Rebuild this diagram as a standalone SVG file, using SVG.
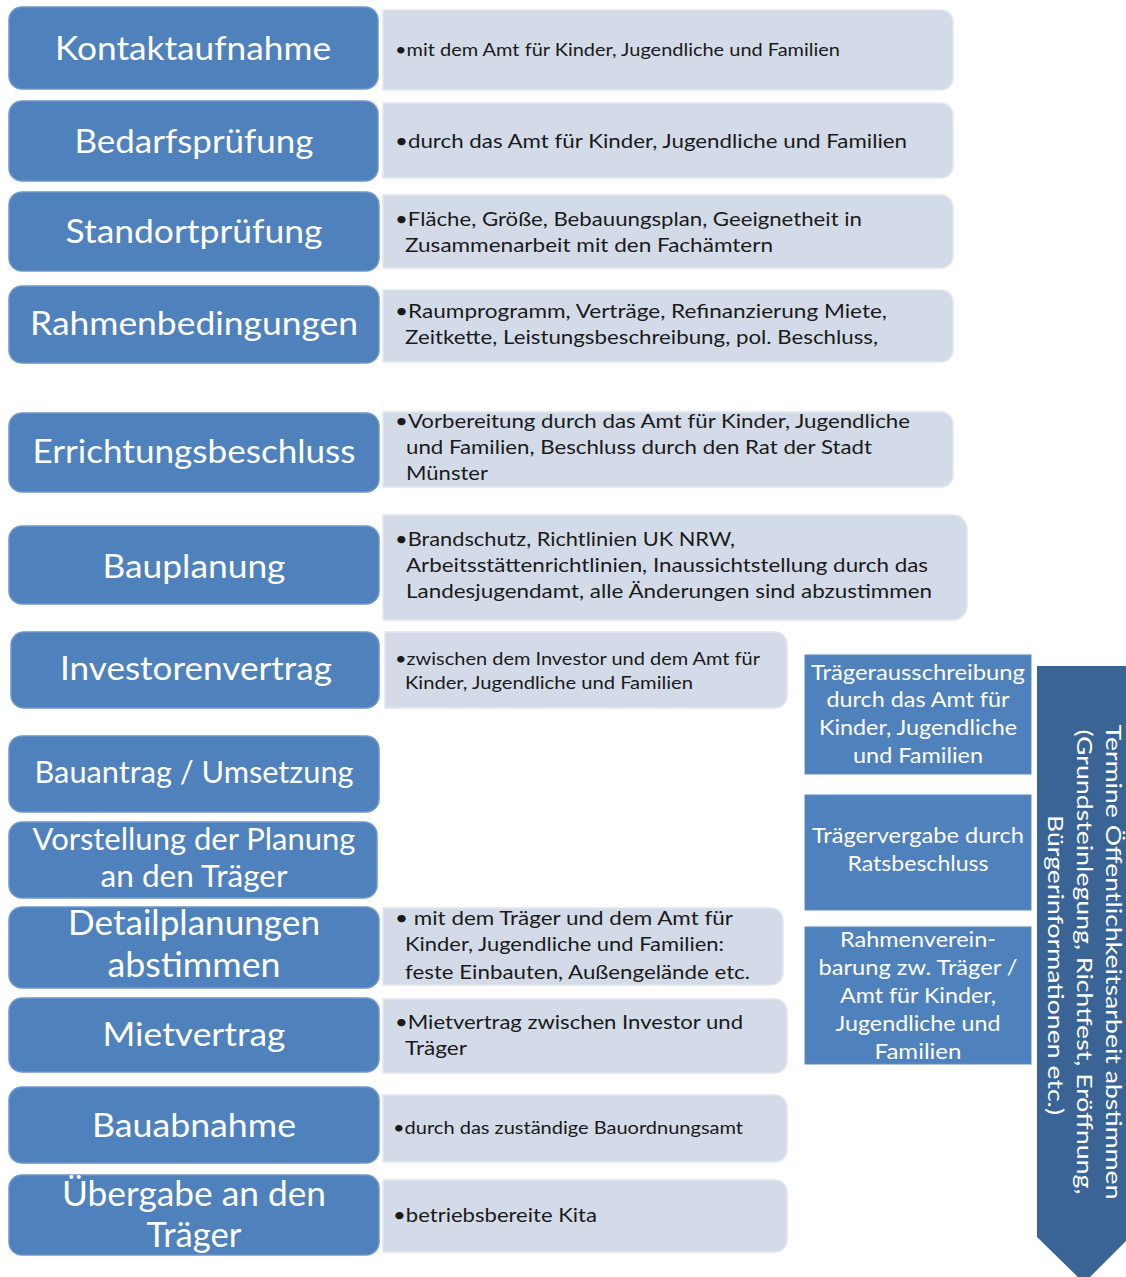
<svg xmlns="http://www.w3.org/2000/svg" width="1126" height="1277" viewBox="0 0 1126 1277">
<style>
.step{fill:#4F81BD;stroke:#6E97CC;stroke-width:1.5}
.det{fill:#D4DBE8;stroke:#E2E7F0;stroke-width:1.5}
.side{fill:#4F81BD;stroke:#5F8CC4;stroke-width:1}
.arrow{fill:#3A6496}
.lbl{font-family:Lato,"Open Sans",sans-serif;fill:#FFFFFF;text-anchor:middle}
.txt{font-family:Lato,"Open Sans",sans-serif;fill:#1A1A1A;font-size:19px}
.sm{font-size:17px}
.sl{font-family:Lato,"Open Sans",sans-serif;fill:#FFFFFF;text-anchor:middle;font-size:21px}
.al{font-family:Lato,"Open Sans",sans-serif;fill:#FFFFFF;text-anchor:middle;font-size:22px}
</style>
<rect width="1126" height="1277" fill="#FFFFFF"/>
<g id="connectors"></g>

<g id="arrow-oeffentlichkeit">
<polygon class="arrow" points="1037,666 1130,666 1130,1237 1084,1283 1037,1237"/>
<text class="al" transform="translate(1106,962) rotate(90)" textLength="475" lengthAdjust="spacingAndGlyphs">Termine Öffentlichkeitsarbeit abstimmen</text>
<text class="al" transform="translate(1077,962) rotate(90)" textLength="465" lengthAdjust="spacingAndGlyphs">(Grundsteinlegung, Richtfest, Eröffnung,</text>
<text class="al" transform="translate(1048,965) rotate(90)" textLength="300" lengthAdjust="spacingAndGlyphs">Bürgerinformationen etc.)</text>
</g>

<g id="n1">
<rect class="step" x="9" y="7" width="369" height="82" rx="13"/>
<text class="lbl" x="193" y="60" font-size="33" textLength="276" lengthAdjust="spacingAndGlyphs">Kontaktaufnahme</text>
<path class="det" d="M383 10 H941 A12 12 0 0 1 953 22 V78 A12 12 0 0 1 941 90 H383 Z"/>
<text class="txt sm" x="395" y="56" textLength="445" lengthAdjust="spacingAndGlyphs">•mit dem Amt für Kinder, Jugendliche und Familien</text>
</g>

<g id="n2">
<rect class="step" x="9" y="101" width="369" height="80" rx="13"/>
<text class="lbl" x="194" y="153" font-size="33" textLength="239" lengthAdjust="spacingAndGlyphs">Bedarfsprüfung</text>
<path class="det" d="M383 103 H941 A12 12 0 0 1 953 115 V166 A12 12 0 0 1 941 178 H383 Z"/>
<text class="txt" x="395" y="148" textLength="512" lengthAdjust="spacingAndGlyphs">•durch das Amt für Kinder, Jugendliche und Familien</text>
</g>

<g id="n3">
<rect class="step" x="9" y="192" width="370" height="79" rx="13"/>
<text class="lbl" x="194" y="243" font-size="33" textLength="257" lengthAdjust="spacingAndGlyphs">Standortprüfung</text>
<path class="det" d="M383 195 H941 A12 12 0 0 1 953 207 V256 A12 12 0 0 1 941 268 H383 Z"/>
<text class="txt" x="395" y="226" textLength="467" lengthAdjust="spacingAndGlyphs">•Fläche, Größe, Bebauungsplan, Geeignetheit in</text>
<text class="txt" x="405" y="252" textLength="368" lengthAdjust="spacingAndGlyphs">Zusammenarbeit mit den Fachämtern</text>
</g>

<g id="n4">
<rect class="step" x="9" y="286" width="370" height="77" rx="13"/>
<text class="lbl" x="194" y="335" font-size="33" textLength="328" lengthAdjust="spacingAndGlyphs">Rahmenbedingungen</text>
<path class="det" d="M383 290 H941 A12 12 0 0 1 953 302 V350 A12 12 0 0 1 941 362 H383 Z"/>
<text class="txt" x="395" y="318" textLength="492" lengthAdjust="spacingAndGlyphs">•Raumprogramm, Verträge, Refinanzierung Miete,</text>
<text class="txt" x="405" y="344" textLength="473" lengthAdjust="spacingAndGlyphs">Zeitkette, Leistungsbeschreibung, pol. Beschluss,</text>
</g>

<g id="n5">
<rect class="step" x="9" y="413" width="370" height="79" rx="13"/>
<text class="lbl" x="194" y="463" font-size="33" textLength="323" lengthAdjust="spacingAndGlyphs">Errichtungsbeschluss</text>
<path class="det" d="M383 412 H941 A12 12 0 0 1 953 424 V475 A12 12 0 0 1 941 487 H383 Z"/>
<text class="txt" x="395" y="428" textLength="515" lengthAdjust="spacingAndGlyphs">•Vorbereitung durch das Amt für Kinder, Jugendliche</text>
<text class="txt" x="406" y="454" textLength="466" lengthAdjust="spacingAndGlyphs">und Familien, Beschluss durch den Rat der Stadt</text>
<text class="txt" x="406" y="480" textLength="82" lengthAdjust="spacingAndGlyphs">Münster</text>
</g>

<g id="n6">
<rect class="step" x="9" y="526" width="370" height="78" rx="13"/>
<text class="lbl" x="194" y="578" font-size="33" textLength="183" lengthAdjust="spacingAndGlyphs">Bauplanung</text>
<path class="det" d="M383 515 H953 A14 14 0 0 1 967 529 V606 A14 14 0 0 1 953 620 H383 Z"/>
<text class="txt" x="395" y="546" textLength="340" lengthAdjust="spacingAndGlyphs">•Brandschutz, Richtlinien UK NRW,</text>
<text class="txt" x="406" y="572" textLength="522" lengthAdjust="spacingAndGlyphs">Arbeitsstättenrichtlinien, Inaussichtstellung durch das</text>
<text class="txt" x="406" y="598" textLength="526" lengthAdjust="spacingAndGlyphs">Landesjugendamt, alle Änderungen sind abzustimmen</text>
</g>

<g id="n7">
<rect class="step" x="11" y="632" width="368" height="76" rx="13"/>
<text class="lbl" x="196" y="680" font-size="33" textLength="272" lengthAdjust="spacingAndGlyphs">Investorenvertrag</text>
<path class="det" d="M385 632 H775 A12 12 0 0 1 787 644 V696 A12 12 0 0 1 775 708 H385 Z"/>
<text class="txt sm" x="395" y="665" textLength="365" lengthAdjust="spacingAndGlyphs">•zwischen dem Investor und dem Amt für</text>
<text class="txt sm" x="405" y="689" textLength="288" lengthAdjust="spacingAndGlyphs">Kinder, Jugendliche und Familien</text>
</g>

<g id="n8">
<rect class="step" x="9" y="736" width="370" height="76" rx="13"/>
<text class="lbl" x="194" y="783" font-size="31" textLength="319" lengthAdjust="spacingAndGlyphs">Bauantrag / Umsetzung</text>
</g>

<g id="n9">
<rect class="step" x="9" y="822" width="368" height="76" rx="13"/>
<text class="lbl" x="194" y="850" font-size="31" textLength="323" lengthAdjust="spacingAndGlyphs">Vorstellung der Planung</text>
<text class="lbl" x="194" y="887" font-size="31" textLength="187" lengthAdjust="spacingAndGlyphs">an den Träger</text>
</g>

<g id="n10">
<rect class="step" x="9" y="907" width="370" height="81" rx="13"/>
<text class="lbl" x="194" y="935" font-size="35" textLength="252" lengthAdjust="spacingAndGlyphs">Detailplanungen</text>
<text class="lbl" x="194" y="977" font-size="35" textLength="173" lengthAdjust="spacingAndGlyphs">abstimmen</text>
<path class="det" d="M383 908 H771 A12 12 0 0 1 783 920 V973 A12 12 0 0 1 771 985 H383 Z"/>
<text class="txt" x="395" y="925" textLength="338" lengthAdjust="spacingAndGlyphs">• mit dem Träger und dem Amt für</text>
<text class="txt" x="405" y="951" textLength="319" lengthAdjust="spacingAndGlyphs">Kinder, Jugendliche und Familien:</text>
<text class="txt" x="405" y="979" textLength="345" lengthAdjust="spacingAndGlyphs">feste Einbauten, Außengelände etc.</text>
</g>

<g id="n11">
<rect class="step" x="9" y="998" width="370" height="74" rx="13"/>
<text class="lbl" x="194" y="1046" font-size="33" textLength="183" lengthAdjust="spacingAndGlyphs">Mietvertrag</text>
<path class="det" d="M383 999 H775 A12 12 0 0 1 787 1011 V1061 A12 12 0 0 1 775 1073 H383 Z"/>
<text class="txt" x="395" y="1029" textLength="348" lengthAdjust="spacingAndGlyphs">•Mietvertrag zwischen Investor und</text>
<text class="txt" x="405" y="1055" textLength="62" lengthAdjust="spacingAndGlyphs">Träger</text>
</g>

<g id="n12">
<rect class="step" x="9" y="1087" width="370" height="76" rx="13"/>
<text class="lbl" x="194" y="1137" font-size="33" textLength="204" lengthAdjust="spacingAndGlyphs">Bauabnahme</text>
<path class="det" d="M383 1095 H775 A12 12 0 0 1 787 1107 V1150 A12 12 0 0 1 775 1162 H383 Z"/>
<text class="txt sm" x="393" y="1134" textLength="350" lengthAdjust="spacingAndGlyphs">•durch das zuständige Bauordnungsamt</text>
</g>

<g id="n13">
<rect class="step" x="9" y="1175" width="370" height="80" rx="13"/>
<text class="lbl" x="194" y="1206" font-size="35" textLength="264" lengthAdjust="spacingAndGlyphs">Übergabe an den</text>
<text class="lbl" x="194" y="1247" font-size="35" textLength="95" lengthAdjust="spacingAndGlyphs">Träger</text>
<path class="det" d="M383 1180 H775 A12 12 0 0 1 787 1192 V1240 A12 12 0 0 1 775 1252 H383 Z"/>
<text class="txt" x="393" y="1222" textLength="204" lengthAdjust="spacingAndGlyphs">•betriebsbereite Kita</text>
</g>

<g id="s1">
<rect class="side" x="805" y="655" width="226" height="119"/>
<text class="sl" x="918" y="680" textLength="214" lengthAdjust="spacingAndGlyphs">Trägerausschreibung</text>
<text class="sl" x="918" y="707" textLength="183" lengthAdjust="spacingAndGlyphs">durch das Amt für</text>
<text class="sl" x="918" y="735" textLength="198" lengthAdjust="spacingAndGlyphs">Kinder, Jugendliche</text>
<text class="sl" x="918" y="763" textLength="130" lengthAdjust="spacingAndGlyphs">und Familien</text>
</g>

<g id="s2">
<rect class="side" x="805" y="795" width="226" height="115"/>
<text class="sl" x="918" y="843" textLength="212" lengthAdjust="spacingAndGlyphs">Trägervergabe durch</text>
<text class="sl" x="918" y="871" textLength="141" lengthAdjust="spacingAndGlyphs">Ratsbeschluss</text>
</g>

<g id="s3">
<rect class="side" x="805" y="927" width="226" height="137"/>
<text class="sl" x="918" y="947" textLength="156" lengthAdjust="spacingAndGlyphs">Rahmenverein-</text>
<text class="sl" x="918" y="975" textLength="199" lengthAdjust="spacingAndGlyphs">barung zw. Träger /</text>
<text class="sl" x="918" y="1003" textLength="156" lengthAdjust="spacingAndGlyphs">Amt für Kinder,</text>
<text class="sl" x="918" y="1031" textLength="165" lengthAdjust="spacingAndGlyphs">Jugendliche und</text>
<text class="sl" x="918" y="1059" textLength="87" lengthAdjust="spacingAndGlyphs">Familien</text>
</g>
</svg>
